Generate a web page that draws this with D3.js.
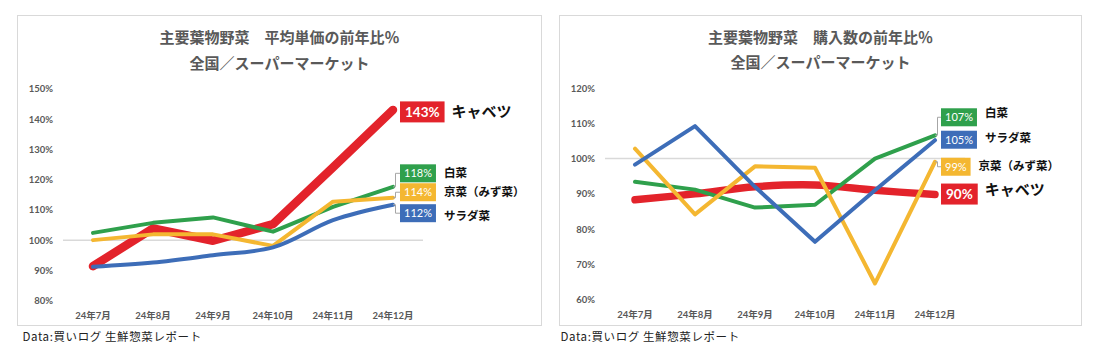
<!DOCTYPE html>
<html><head><meta charset="utf-8">
<script src="https://cdn.jsdelivr.net/npm/d3@7"></script>
<style>body{margin:0;background:#fff}svg{display:block}</style>
</head><body><svg id="c" width="1102" height="355"></svg>
<script>
// ---- data ----
const categories = ["24年7月","24年8月","24年9月","24年10月","24年11月","24年12月"];
const seriesNames = ["キャベツ","白菜","京菜（みず菜）","サラダ菜"];
const priceCabbage = [91.4, 103.9, 99.8, 105.3, 124.0, 143.0];
const priceHakusai = [102.4, 105.7, 107.5, 102.8, 111.0, 117.6];
const priceKyona   = [100.0, 101.9, 101.9, 98.1, 112.7, 114.0];
const priceSalad   = [91.2, 92.6, 95.0, 97.6, 106.6, 111.7];
const qtyCabbage = [88.3, 90.0, 92.0, 92.5, 91.0, 89.8];
const qtyHakusai = [93.4, 91.2, 86.1, 86.9, 100.0, 106.6];
const qtyKyona   = [102.8, 84.2, 97.8, 97.4, 64.6, 99.1];
const qtySalad   = [98.3, 109.2, 92.0, 76.4, 91.0, 105.2];
const priceTicks = [80, 90, 100, 110, 120, 130, 140, 150];
const qtyTicks = [60, 70, 80, 90, 100, 110, 120];
const priceTitle = ["主要葉物野菜　平均単価の前年比％", "全国／スーパーマーケット"];
const qtyTitle = ["主要葉物野菜　購入数の前年比％", "全国／スーパーマーケット"];
const sourceText = "Data:買いログ 生鮮惣菜レポート";

// ---- style ----
const RED = "#E3232B", GREEN = "#2FA04C", YELLOW = "#F4B731", BLUE = "#3D6DB8";
const GRAY = "#595959";
const CJK = "'Noto Sans CJK JP', 'Noto Sans', sans-serif";
const NUM = "Lato, 'Noto Sans CJK JP', sans-serif";

const svg = d3.select("#c");
svg.append("rect").attr("width", 1102).attr("height", 355).attr("fill", "#fff");

function drawPanel(cfg) {
  const g = svg.append("g");
  g.append("rect").attr("x", cfg.frame[0]).attr("y", cfg.frame[1])
    .attr("width", cfg.frame[2]).attr("height", cfg.frame[3])
    .attr("fill", "#fff").attr("stroke", "#D9D9D9").attr("stroke-width", 1);
  const cx = cfg.frame[0] + cfg.frame[2] / 2;
  cfg.title.forEach((t, i) => {
    g.append("text").attr("x", cx).attr("y", cfg.titleY[i]).attr("dy", "0.35em")
      .attr("text-anchor", "middle").attr("font-family", CJK).attr("font-weight", 700)
      .attr("font-size", 15).attr("fill", GRAY).text(t);
  });
  const x = d3.scaleBand().domain(categories).range(cfg.xRange);
  const xc = d => x(d) + x.bandwidth() / 2;
  const y = d3.scaleLinear().domain(cfg.yDomain).range(cfg.yRange);

  // 100% reference line
  g.append("line").attr("x1", cfg.xRange[0]).attr("x2", cfg.xRange[1])
    .attr("y1", y(100)).attr("y2", y(100)).attr("stroke", "#D9D9D9").attr("stroke-width", 1.5);

  // y axis labels
  const yAxis = d3.axisLeft(y).tickValues(cfg.ticks).tickSize(0).tickPadding(10)
    .tickFormat(d => d + "%");
  const ya = g.append("g").attr("transform", `translate(${cfg.xRange[0]},0)`).call(yAxis);
  ya.select(".domain").remove();
  ya.selectAll("text").attr("font-family", NUM).attr("font-weight", 700)
    .attr("font-size", 9.5).attr("fill", GRAY);

  // x axis labels
  const xAxis = d3.axisBottom(x).tickSize(0).tickPadding(0);
  const xa = g.append("g").attr("transform", `translate(0,${cfg.xLabelY})`).call(xAxis);
  xa.select(".domain").remove();
  xa.selectAll("text").attr("dy", "0.35em").attr("font-family", NUM).attr("font-weight", 700)
    .attr("font-size", 9.5).attr("fill", GRAY);

  // lines
  cfg.series.forEach(s => {
    const line = d3.line().x((d, i) => xc(categories[i])).y(d => y(d)).curve(s.curve || d3.curveLinear);
    g.append("path").attr("d", line(s.values)).attr("fill", "none")
      .attr("stroke", s.color).attr("stroke-width", s.width)
      .attr("stroke-linecap", "round").attr("stroke-linejoin", "round");
  });

  // end labels
  const lastX = xc(categories[categories.length - 1]);
  cfg.series.forEach(s => {
    const v = s.values[s.values.length - 1];
    const py = y(v);
    const cy = py + s.labelDy;
    const bx = lastX + cfg.boxGap;
    const big = s.big;
    const fs = big ? 13.5 : 11;
    const t = g.append("text").attr("font-family", NUM).attr("font-weight", big ? 700 : 400)
      .attr("font-size", fs).attr("fill", "#fff").attr("dy", "0.36em")
      .text(Math.round(v) + "%");
    const tw = t.node().getComputedTextLength();
    const bw = tw + (big ? 10 : 8);
    const bh = big ? 21 : 18;
    if (Math.abs(s.labelDy) > 3) {
      g.append("path").attr("d", `M${bx},${cy} H${lastX + 2.5} V${py} H${lastX}`)
        .attr("fill", "none").attr("stroke", "#A6A6A6").attr("stroke-width", 1);
    }
    g.insert("rect", () => t.node()).attr("x", bx).attr("y", cy - bh / 2)
      .attr("width", bw).attr("height", bh).attr("fill", s.color);
    t.attr("x", bx + bw / 2).attr("y", cy).attr("text-anchor", "middle");
    g.append("text").attr("x", bx + bw + (big ? 7 : 8)).attr("y", cy + s.nameDy).attr("dy", "0.36em")
      .attr("font-family", CJK).attr("font-weight", 700).attr("font-size", big ? 15 : 11.5)
      .attr("fill", "#111").text(s.name);
  });

  svg.append("text").attr("x", cfg.sourceX).attr("y", 337).attr("dy", "0.36em")
    .attr("font-family", CJK).attr("font-size", 11.5).attr("fill", "#222")
    .attr("letter-spacing", 0.6).text(sourceText);
}

drawPanel({
  frame: [17.5, 15.5, 524, 310], title: priceTitle, titleY: [37.7, 63.3],
  xRange: [63, 423], yDomain: [80, 150], yRange: [300.7, 88.7], ticks: priceTicks,
  xLabelY: 315.7, boxGap: 7, sourceX: 22.5,
  series: [
    {name: seriesNames[0], values: priceCabbage, color: RED, width: 8.5, labelDy: 2, nameDy: 0, big: true},
    {name: seriesNames[1], values: priceHakusai, color: GREEN, width: 4, labelDy: -13.5, nameDy: 0},
    {name: seriesNames[2], values: priceKyona, color: YELLOW, width: 4, labelDy: -5.5, nameDy: 0},
    {name: seriesNames[3], values: priceSalad, color: BLUE, width: 4, labelDy: 8.5, nameDy: 3, curve: d3.curveMonotoneX}
  ]
});

drawPanel({
  frame: [559.5, 15.5, 522, 310], title: qtyTitle, titleY: [37.7, 62.5],
  xRange: [605, 965], yDomain: [60, 120], yRange: [299.7, 88], ticks: qtyTicks,
  xLabelY: 314.5, boxGap: 6, sourceX: 560.5,
  series: [
    {name: seriesNames[0], values: qtyCabbage, color: RED, width: 7.5, labelDy: -0.5, nameDy: -4, big: true, curve: d3.curveCatmullRom.alpha(0.5)},
    {name: seriesNames[1], values: qtyHakusai, color: GREEN, width: 4, labelDy: -18, nameDy: -4},
    {name: seriesNames[2], values: qtyKyona, color: YELLOW, width: 4, labelDy: 5, nameDy: -1},
    {name: seriesNames[3], values: qtySalad, color: BLUE, width: 4, labelDy: -0.5, nameDy: -1.5}
  ]
});
</script></body></html>
